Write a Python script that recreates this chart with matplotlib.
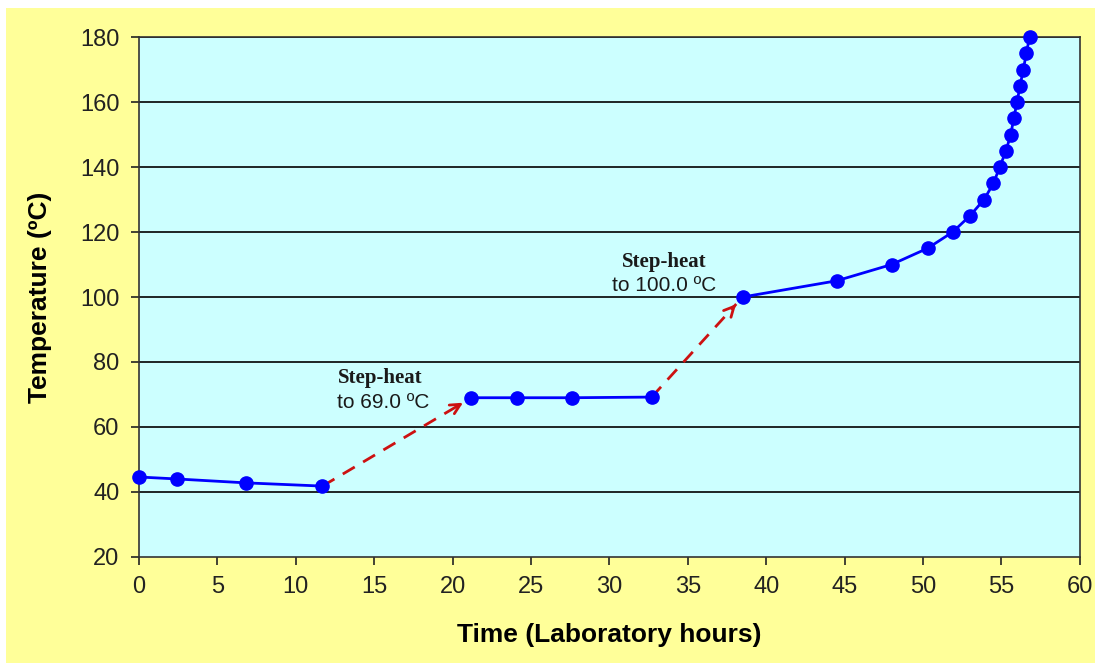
import matplotlib.pyplot as plt
from matplotlib.patches import Rectangle

# Datos
t1 = [0.0, 2.4, 6.8, 11.7]
T1 = [44.6, 44.0, 42.8, 41.8]

t2 = [21.2, 24.1, 27.6, 32.7]
T2 = [69.0, 69.0, 69.0, 69.2]

t3 = [38.5, 44.5, 48.0, 50.3, 51.9, 53.0, 53.9, 54.5, 54.9, 55.3,
      55.6, 55.8, 56.0, 56.2, 56.4, 56.6, 56.8]
T3 = [100, 105, 110, 115, 120, 125, 130, 135, 140, 145,
      150, 155, 160, 165, 170, 175, 180]

plt.rcParams['font.family'] = ['Liberation Sans', 'DejaVu Sans']

fig = plt.figure(figsize=(10.95, 6.63), dpi=100, facecolor='white')
# fondo amarillo del gráfico
fig.patches.append(Rectangle((6 / 1095, 0), 1, 1 - 8 / 663, transform=fig.transFigure,
                             facecolor='#FFFF99', edgecolor='none', zorder=-1))
ax = fig.add_axes([0.127, 0.160, 0.859, 0.784])
ax.set_facecolor('#CCFFFF')

# líneas de la cuadrícula
for y in range(40, 181, 20):
    ax.axhline(y, color='black', linewidth=1.2, zorder=1)

for t, T in [(t1, T1), (t2, T2), (t3, T3)]:
    ax.plot(t, T, color='#0000FF', linewidth=2, marker='o', markersize=9.5,
            zorder=4, clip_on=False)


# flechas de step-heat: línea discontinua + punta sólida
def flecha(x0, y0, x1, y1):
    f = 0.93
    xm, ym = x0 + f * (x1 - x0), y0 + f * (y1 - y0)
    ax.plot([x0, xm], [y0, ym], color='#CC1111', linestyle=(0, (5, 3.5)),
            linewidth=2, zorder=3)
    ax.annotate('', xy=(x1, y1), xytext=(xm - 0.03 * (x1 - x0), ym - 0.03 * (y1 - y0)),
                arrowprops=dict(arrowstyle='->', color='#CC1111', linewidth=2,
                                mutation_scale=18, shrinkA=0, shrinkB=7),
                zorder=3)


flecha(t1[-1], T1[-1], t2[0], T2[0])
flecha(t2[-1], T2[-1], t3[0], T3[0])

ax.text(15.4, 75.1, 'Step-heat', family='Liberation Serif', fontweight='bold',
        fontsize=15, ha='center', va='center', color='#1a1a1a')
ax.text(15.6, 67.4, 'to 69.0 ºC', fontsize=15, ha='center', va='center', color='#1a1a1a')
ax.text(33.5, 110.8, 'Step-heat', family='Liberation Serif', fontweight='bold',
        fontsize=15, ha='center', va='center', color='#1a1a1a')
ax.text(33.5, 103.4, 'to 100.0 ºC', fontsize=15, ha='center', va='center', color='#1a1a1a')

ax.set_xlim(0, 60)
ax.set_ylim(20, 180)
ax.set_xticks(range(0, 61, 5))
ax.set_yticks(range(20, 181, 20))
ax.tick_params(labelsize=17, length=6, width=1.2, direction='out', colors='#222222', pad=8)
for s in ax.spines.values():
    s.set_linewidth(1.2)
    s.set_color('#333333')

ax.set_xlabel('Time (Laboratory hours)', fontsize=19, fontweight='bold', labelpad=18)
ax.set_ylabel('Temperature (ºC)', fontsize=19, fontweight='bold', labelpad=20)

fig.savefig('out.png', dpi=100, facecolor=fig.get_facecolor())
